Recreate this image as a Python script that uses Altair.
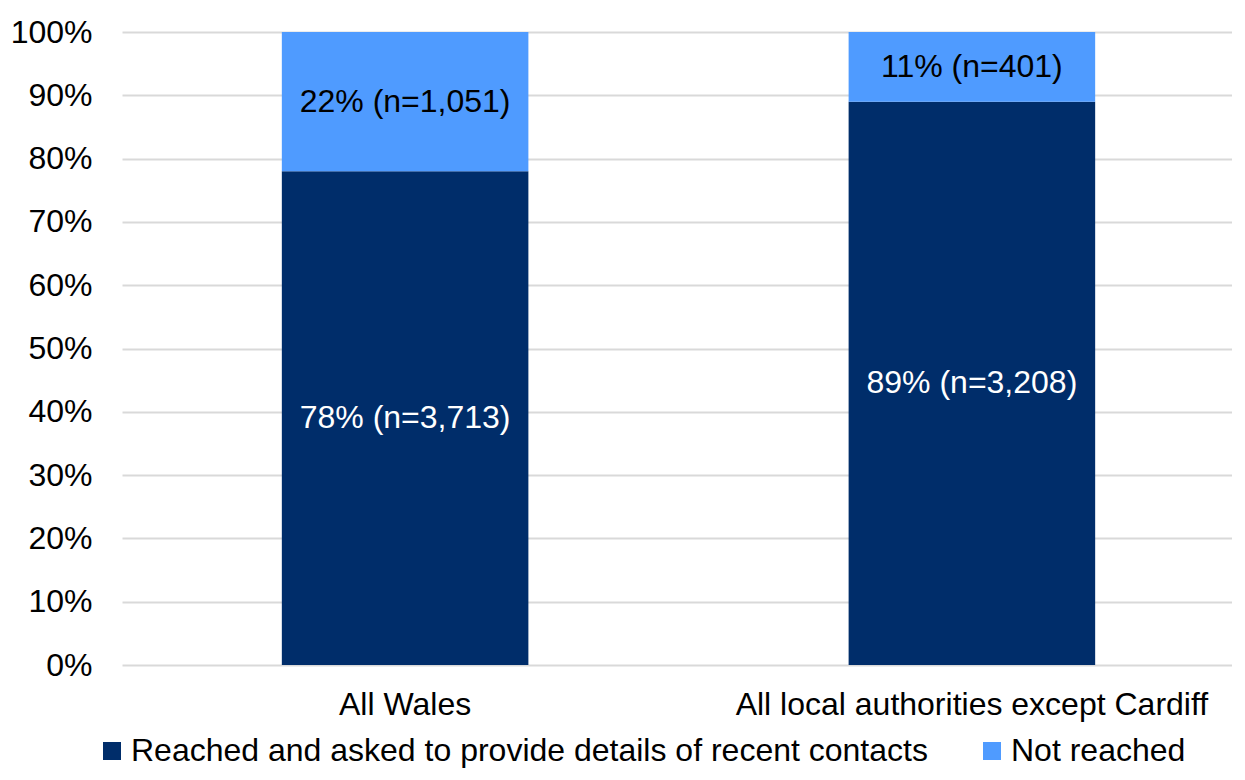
import altair as alt
import pandas as pd

categories = ["All Wales", "All local authorities except Cardiff"]
series = ["Reached and asked to provide details of recent contacts", "Not reached"]
reached_pct = [0.78, 0.89]
reached_n = ["3,713", "3,208"]
not_reached_pct = [0.22, 0.11]
not_reached_n = ["1,051", "401"]
colors = ["#002D6A", "#4F9BFF"]
text_colors = ["#FFFFFF", "#000000"]

rows = []
for i, c in enumerate(categories):
    rows.append({"category": c, "series": series[0], "value": reached_pct[i], "n": reached_n[i], "ord": 0})
    rows.append({"category": c, "series": series[1], "value": not_reached_pct[i], "n": not_reached_n[i], "ord": 1})
df = pd.DataFrame(rows)
df["label"] = df.apply(lambda r: f"{round(r['value']*100):.0f}% (n={r['n']})", axis=1)

FONT = "Liberation Sans"
FS = 32

x_enc = alt.X(
    "category:N",
    sort=categories,
    title=None,
    scale=alt.Scale(range=[0, 1133], paddingInner=0.565, paddingOuter=0.282),
    axis=alt.Axis(labelAngle=0, labelFont=FONT, labelFontSize=FS, labelColor="#000000",
                  ticks=False, domain=False, labelPadding=24, grid=False, labelLimit=0),
)

bars = alt.Chart(df).mark_bar().encode(
    x=x_enc,
    y=alt.Y(
        "value:Q",
        stack="zero",
        title=None,
        scale=alt.Scale(domain=[0, 1]),
        axis=alt.Axis(values=[i / 10 for i in range(11)], format=".0%", labelFont=FONT,
                      labelFontSize=FS, labelColor="#000000", ticks=False, domain=False,
                      labelPadding=30, gridColor="#D9D9D9", gridWidth=2),
    ),
    color=alt.Color(
        "series:N",
        sort=series,
        scale=alt.Scale(domain=series, range=colors),
        legend=alt.Legend(
            title=None, orient="none", direction="horizontal", legendX=-26, legendY=703,
            symbolType="square", symbolSize=324, symbolStrokeWidth=0, labelFont=FONT,
            labelFontSize=FS, labelColor="#000000", columnPadding=48, symbolOffset=0,
            labelOffset=3, padding=0, labelLimit=0,
        ),
    ),
    order=alt.Order("ord:Q", sort="ascending"),
)

texts = alt.Chart(df).transform_stack(
    stack="value", groupby=["category"], as_=["v0", "v1"], sort=[alt.SortField("ord")]
).transform_calculate(mid="(datum.v0 + datum.v1) / 2").mark_text(
    font=FONT, fontSize=FS, baseline="middle", align="center"
).encode(
    x=alt.X("category:N", sort=categories),
    y=alt.Y("mid:Q"),
    text="label:N",
    color=alt.Color("series:N", scale=alt.Scale(domain=series, range=text_colors), legend=None),
)

chart = alt.layer(bars, texts).resolve_scale(color="independent").properties(
    width=1110, height=633,
    autosize=alt.AutoSizeParams(type="none"),
    padding={"left": 114, "top": 24, "right": 0, "bottom": 107},
).configure_view(stroke=None)

chart.save("out.html", embed_options={"renderer": "svg", "actions": False})
